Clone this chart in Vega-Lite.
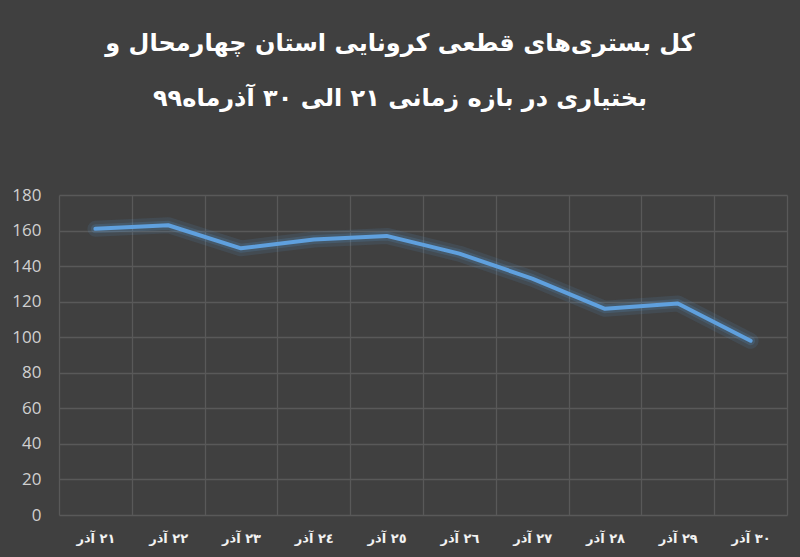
{
  "$schema": "https://vega.github.io/schema/vega-lite/v6.json",
  "width": 728,
  "height": 320,
  "autosize": "none",
  "padding": {"left": 59, "top": 195, "right": 13, "bottom": 42},
  "background": "#404040",
  "title": {
    "text": ["کل بستری‌های قطعی کرونایی استان چهارمحال و", "بختیاری در بازه زمانی ۲۱ الی ۳۰ آذرماه۹۹"],
    "font": "DejaVu Sans",
    "fontWeight": "bold",
    "fontSize": 24,
    "color": "#ffffff",
    "anchor": "middle",
    "dx": -23,
    "offset": 75,
    "lineHeight": 55
  },
  "data": {
    "values": [
      {"day": "٢١ آذر", "value": 161},
      {"day": "٢٢ آذر", "value": 163},
      {"day": "٢٣ آذر", "value": 150},
      {"day": "٢٤ آذر", "value": 155},
      {"day": "٢٥ آذر", "value": 157},
      {"day": "٢٦ آذر", "value": 147},
      {"day": "٢٧ آذر", "value": 133},
      {"day": "٢٨ آذر", "value": 116},
      {"day": "٢٩ آذر", "value": 119},
      {"day": "٣٠ آذر", "value": 98}
    ]
  },
  "config": {
    "view": {"stroke": null},
    "axis": {"gridColor": "#595959", "gridWidth": 1.3, "domain": false, "ticks": false}
  },
  "encoding": {
    "x": {
      "field": "day",
      "type": "ordinal",
      "sort": null,
      "scale": {"type": "band", "paddingInner": 0, "paddingOuter": 0},
      "axis": {
        "title": null,
        "labelAngle": 0,
        "tickBand": "extent",
        "grid": true,
        "labelFont": "DejaVu Sans",
        "labelFontWeight": "bold",
        "labelFontSize": 13,
        "labelColor": "#f2f2f2",
        "labelPadding": 17
      }
    },
    "y": {
      "field": "value",
      "type": "quantitative",
      "scale": {"domain": [0, 180], "nice": false},
      "axis": {
        "title": null,
        "values": [0, 20, 40, 60, 80, 100, 120, 140, 160, 180],
        "labelFont": "Open Sans",
        "labelFontSize": 17,
        "labelColor": "#d0d0d0",
        "labelPadding": 18
      }
    }
  },
  "layer": [
    {"mark": {"type": "line", "color": "#5b9bd5", "strokeWidth": 16, "opacity": 0.12, "strokeCap": "round", "strokeJoin": "round"}},
    {"mark": {"type": "line", "color": "#5b9bd5", "strokeWidth": 9, "opacity": 0.18, "strokeCap": "round", "strokeJoin": "round"}},
    {"mark": {"type": "line", "color": "#5fa0de", "strokeWidth": 4, "strokeCap": "round", "strokeJoin": "round"}}
  ]
}
